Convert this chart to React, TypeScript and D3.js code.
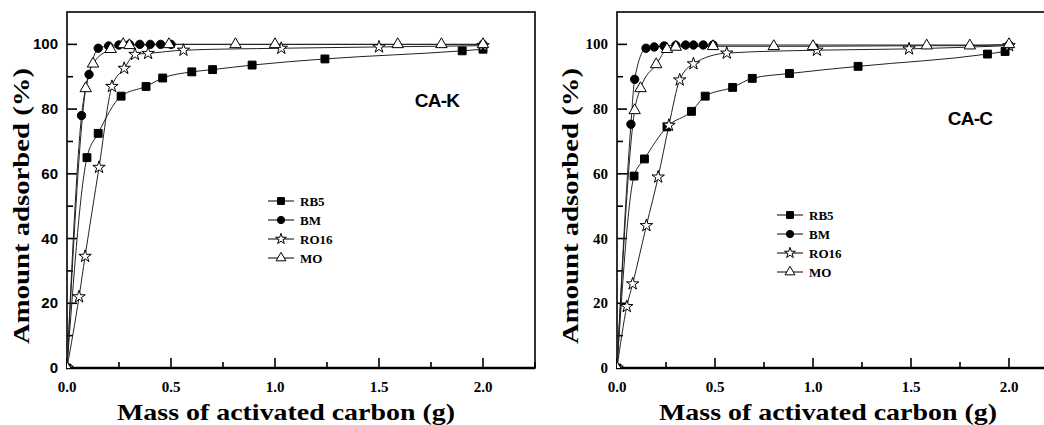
import * as d3 from "d3";

// ---- data ----
const seriesNames = ["RB5", "BM", "RO16", "MO"];
const xTicks = [0, 0.5, 1.0, 1.5, 2.0];
const yTicks = [0, 20, 40, 60, 80, 100];

// CA-K panel
const kRB5x = [0, 0.096, 0.15, 0.26, 0.38, 0.46, 0.6, 0.7, 0.89, 1.24, 1.9, 2.0];
const kRB5y = [0, 65, 72.5, 84, 87, 89.6, 91.5, 92.2, 93.6, 95.5, 98, 98.5];
const kBMx = [0, 0.07, 0.106, 0.15, 0.2, 0.25, 0.3, 0.35, 0.4, 0.45, 0.5, 2.0];
const kBMy = [0, 78, 90.7, 98.8, 99.5, 99.8, 100, 100, 100, 100, 100, 100];
const kRO16x = [0, 0.058, 0.087, 0.154, 0.216, 0.275, 0.327, 0.39, 0.56, 1.03, 1.5, 2.0];
const kRO16y = [0, 22, 34.5, 62, 87, 92.6, 96.9, 97.2, 98.2, 98.8, 99.2, 99.6];
const kMOx = [0, 0.09, 0.125, 0.21, 0.27, 0.3, 0.49, 0.81, 1.0, 1.59, 1.8, 2.0];
const kMOy = [0, 86.4, 94, 98.5, 100, 99.7, 100, 100, 100, 100, 100, 100];

// CA-C panel
const cRB5x = [0, 0.087, 0.14, 0.255, 0.38, 0.45, 0.59, 0.69, 0.88, 1.23, 1.89, 1.98];
const cRB5y = [0, 59.3, 64.6, 74.5, 79.3, 84, 86.7, 89.5, 91, 93.2, 97, 97.8];
const cBMx = [0, 0.071, 0.09, 0.148, 0.19, 0.24, 0.3, 0.35, 0.39, 0.44, 0.49, 2.0];
const cBMy = [0, 75.3, 89.2, 98.8, 99.2, 99.5, 99.7, 99.8, 99.8, 99.8, 99.8, 99.8];
const cRO16x = [0, 0.05, 0.08, 0.15, 0.21, 0.265, 0.32, 0.39, 0.56, 1.02, 1.49, 2.0];
const cRO16y = [0, 19, 26, 44, 59, 75, 89, 94, 97.3, 98.2, 98.6, 99.6];
const cMOx = [0, 0.09, 0.12, 0.2, 0.255, 0.3, 0.49, 0.8, 1.0, 1.58, 1.8, 2.0];
const cMOy = [0, 79.6, 86.4, 93.8, 98.5, 99.2, 99.4, 99.4, 99.4, 99.6, 99.6, 100];

const SERIF = "'Liberation Serif', 'Times New Roman', serif";
const SANS = "'Liberation Sans', Arial, sans-serif";

const symbols = [d3.symbolSquare, d3.symbolCircle, d3.symbolStar, d3.symbolTriangle];
const fills = ["#000", "#000", "#fff", "#fff"];
const sizes = [62, 55, 48, 56];

function zip(xs: number[], ys: number[]) {
  return xs.map((x, i) => [x, ys[i]] as [number, number]);
}

function Panel(props: {
  id: string;
  left: number;
  top: number;
  width: number;
  height: number;
  xmax: number;
  unit: number;
  series: [number, number][][];
  title: string;
  titleX: number;
  titleY: number;
  legendX: number;
  legendY: number;
  yLabelX: number;
  xLabelX: number;
  yTickFont: string;
}) {
  const { left, top, width, height } = props;
  const x = d3.scaleLinear().domain([0, props.xmax]).range([left, left + props.xmax * props.unit]);
  const y = d3.scaleLinear().domain([0, 110]).range([top + height, top]);
  const bottom = top + height;
  const line = d3
    .line<[number, number]>()
    .x((d) => x(d[0]))
    .y((d) => y(d[1]))
    .curve(d3.curveMonotoneX);
  const minorX = d3.range(0.25, 2.3, 0.5);
  const minorY = d3.range(10, 110, 20);
  const clipId = "clip-" + props.id;

  return (
    <g>
      <defs>
        <clipPath id={clipId}>
          <rect x={left} y={top} width={width} height={height} />
        </clipPath>
      </defs>
      {/* frame */}
      <rect x={left} y={top} width={width} height={height} fill="none" stroke="#000" strokeWidth={1.6} />
      <line x1={left - 1} x2={left + width} y1={bottom} y2={bottom} stroke="#000" strokeWidth={2.4} />
      {/* ticks */}
      {xTicks.map((t) => (
        <g key={"xt" + t}>
          <line x1={x(t)} x2={x(t)} y1={bottom} y2={bottom - 10} stroke="#000" strokeWidth={1.6} />
          <text x={x(t)} y={bottom + 24} textAnchor="middle" fontFamily={SERIF} fontWeight="bold" fontSize={15}>
            {t.toFixed(1)}
          </text>
        </g>
      ))}
      {minorX.map((t) => (
        <line key={"xm" + t} x1={x(t)} x2={x(t)} y1={bottom} y2={bottom - 6} stroke="#000" strokeWidth={1.6} />
      ))}
      {yTicks.map((t) => (
        <g key={"yt" + t}>
          <line x1={left} x2={left + 10} y1={y(t)} y2={y(t)} stroke="#000" strokeWidth={1.6} />
          <text x={left - 9} y={y(t) + 5} textAnchor="end" fontFamily={props.yTickFont} fontWeight="bold" fontSize={15}>
            {t}
          </text>
        </g>
      ))}
      {minorY.map((t) => (
        <line key={"ym" + t} x1={left} x2={left + 6} y1={y(t)} y2={y(t)} stroke="#000" strokeWidth={1.6} />
      ))}
      {/* curves and markers */}
      <g clipPath={`url(#${clipId})`}>
        {props.series.map((s, i) => (
          <path key={"l" + i} d={line(s) || ""} fill="none" stroke="#222" strokeWidth={1} />
        ))}
        {props.series.map((s, i) =>
          s.map((d, j) => (
            <path
              key={"m" + i + "-" + j}
              d={d3.symbol().type(symbols[i]).size(sizes[i])() || ""}
              transform={`translate(${x(d[0])},${y(d[1])})`}
              fill={fills[i]}
              stroke="#000"
              strokeWidth={1}
            />
          ))
        )}
      </g>
      {/* panel title */}
      <text x={props.titleX} y={props.titleY} textAnchor="middle" fontFamily={SANS} fontWeight="bold" fontSize={19} letterSpacing={-0.8}>
        {props.title}
      </text>
      {/* legend */}
      {seriesNames.map((n, i) => {
        const ly = props.legendY + i * 19;
        return (
          <g key={"lg" + n}>
            <line x1={props.legendX} x2={props.legendX + 26} y1={ly} y2={ly} stroke="#000" strokeWidth={1} />
            <path
              d={d3.symbol().type(symbols[i]).size(sizes[i] * 0.75)() || ""}
              transform={`translate(${props.legendX + 13},${ly})`}
              fill={fills[i]}
              stroke="#000"
              strokeWidth={1}
            />
            <text x={props.legendX + 32} y={ly + 4.5} fontFamily={SERIF} fontWeight="bold" fontSize={13}>
              {n}
            </text>
          </g>
        );
      })}
      {/* axis titles */}
      <text
        transform={`translate(${props.yLabelX},${206}) rotate(-90)`}
        textAnchor="middle"
        fontFamily={SERIF}
        fontWeight="bold"
        fontSize={24}
        textLength={276}
        lengthAdjust="spacingAndGlyphs"
      >
        Amount adsorbed (%)
      </text>
      <text
        x={props.xLabelX}
        y={420}
        textAnchor="middle"
        fontFamily={SERIF}
        fontWeight="bold"
        fontSize={24}
        textLength={338}
        lengthAdjust="spacingAndGlyphs"
      >
        Mass of activated carbon (g)
      </text>
    </g>
  );
}

export default function App() {
  const kSeries = [zip(kRB5x, kRB5y), zip(kBMx, kBMy), zip(kRO16x, kRO16y), zip(kMOx, kMOy)];
  const cSeries = [zip(cRB5x, cRB5y), zip(cBMx, cBMy), zip(cRO16x, cRO16y), zip(cMOx, cMOy)];
  return (
    <svg
      width={1044}
      height={425}
      style={{ position: "absolute", left: 0, top: 0, background: "#fff" }}
    >
      <rect width={1044} height={425} fill="#fff" />
      <Panel
        id="k"
        left={67}
        top={12}
        width={468}
        height={356}
        xmax={2.25}
        unit={208}
        series={kSeries}
        title="CA-K"
        titleX={437}
        titleY={107}
        legendX={268}
        legendY={201}
        yLabelX={29}
        xLabelX={286}
        yTickFont={SANS}
      />
      <Panel
        id="c"
        left={617}
        top={12}
        width={445}
        height={356}
        xmax={2.25}
        unit={196}
        series={cSeries}
        title="CA-C"
        titleX={970}
        titleY={125}
        legendX={777}
        legendY={215}
        yLabelX={578}
        xLabelX={828}
        yTickFont={SERIF}
      />
    </svg>
  );
}
